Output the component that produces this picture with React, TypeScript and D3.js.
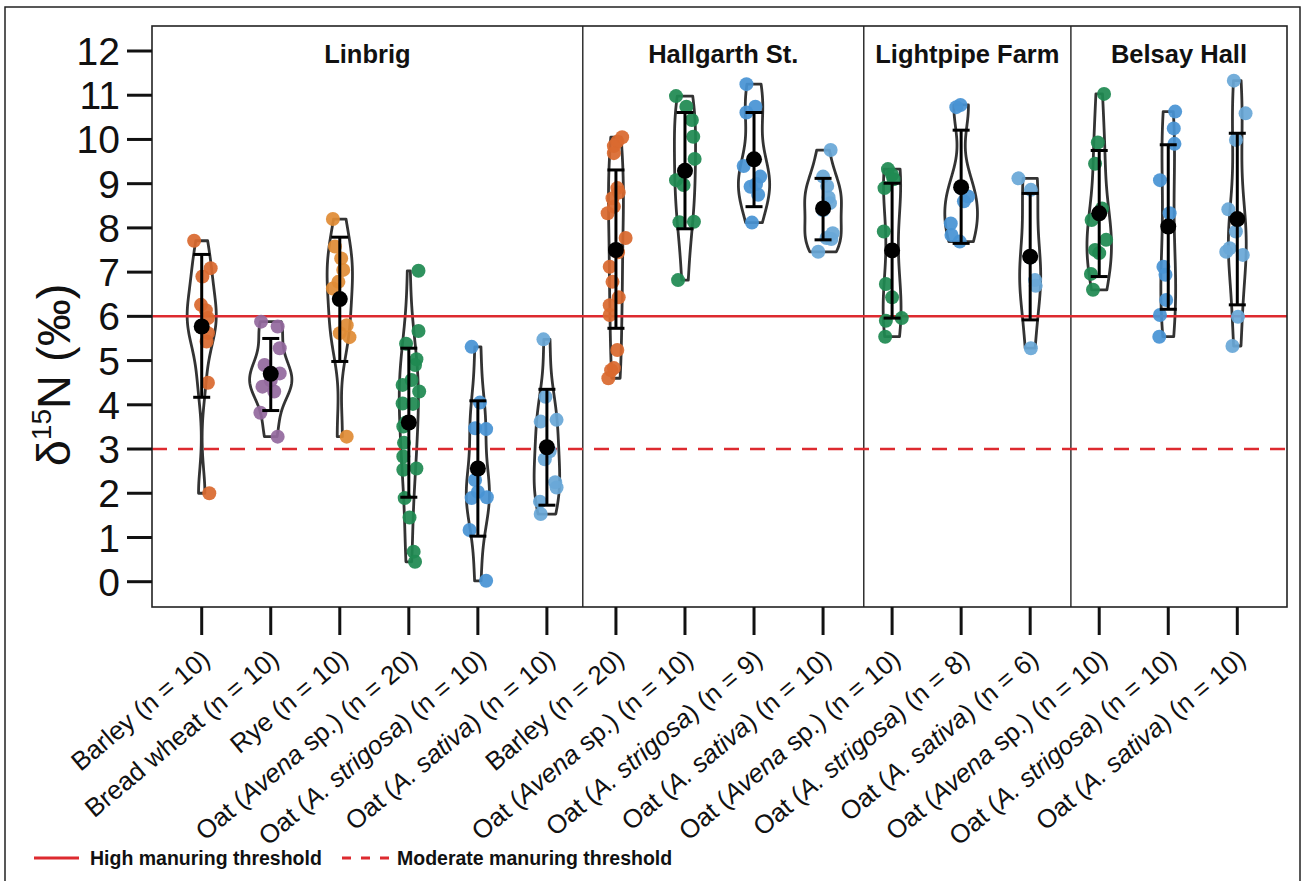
import React from "react";
import * as d3 from "d3";

// ---------------- data ----------------
const siteNames = ["Linbrig", "Hallgarth St.", "Lightpipe Farm", "Belsay Hall"];
const groupSite = [0, 0, 0, 0, 0, 0, 1, 1, 1, 1, 2, 2, 2, 3, 3, 3];
const groupCrop = [
  "barley", "wheat", "rye", "avena", "strigosa", "sativa",
  "barley", "avena", "strigosa", "sativa",
  "avena", "strigosa", "sativa",
  "avena", "strigosa", "sativa",
];
const groupN = [10, 10, 10, 20, 10, 10, 20, 10, 9, 10, 10, 8, 6, 10, 10, 10];
const groupMean = [5.77, 4.7, 6.39, 3.6, 2.56, 3.04, 7.5, 9.29, 9.55, 8.44, 7.49, 8.92, 7.35, 8.33, 8.03, 8.2];
const groupLow = [4.17, 3.87, 4.98, 1.91, 1.03, 1.73, 5.73, 7.98, 8.48, 7.73, 5.96, 7.65, 5.92, 6.9, 6.16, 6.26];
const groupHigh = [7.4, 5.5, 7.79, 5.28, 4.09, 4.35, 9.31, 10.61, 10.61, 9.12, 9.01, 10.21, 8.78, 9.75, 9.88, 10.14];

const groupValues: number[][] = [
  [7.71, 7.09, 6.9, 6.26, 6.14, 5.96, 5.62, 5.43, 4.5, 2.0],
  [5.88, 5.77, 5.28, 4.9, 4.71, 4.55, 4.41, 4.3, 3.82, 3.28],
  [8.2, 7.58, 7.31, 7.05, 6.78, 6.63, 5.8, 5.62, 5.53, 3.28],
  [7.03, 5.67, 5.38, 5.03, 4.9, 4.56, 4.45, 4.3, 4.03, 4.02, 3.6, 3.51, 3.14, 2.83, 2.53, 2.56, 1.89, 1.45, 0.68, 0.45],
  [5.31, 4.05, 3.47, 3.45, 2.3, 2.03, 1.89, 1.91, 1.17, 0.02],
  [5.48, 4.18, 3.66, 3.62, 2.95, 2.77, 2.25, 2.13, 1.81, 1.53],
  [10.05, 9.95, 9.85, 9.69, 8.9, 8.8, 8.67, 8.48, 8.33, 7.77, 7.45, 7.12, 6.78, 6.43, 6.25, 6.03, 5.24, 4.83, 4.78, 4.6],
  [10.98, 10.74, 10.44, 10.06, 9.56, 9.08, 8.97, 8.13, 8.14, 6.82],
  [11.25, 10.74, 10.61, 9.4, 9.16, 8.99, 8.93, 8.75, 8.12],
  [9.76, 9.16, 8.95, 8.69, 8.56, 8.4, 7.88, 7.77, 7.75, 7.46],
  [9.33, 9.2, 9.1, 8.9, 7.92, 6.73, 6.43, 5.96, 5.9, 5.54],
  [10.78, 10.73, 8.9, 8.71, 8.6, 8.1, 7.84, 7.69],
  [9.12, 8.86, 7.33, 6.82, 6.69, 5.28],
  [11.03, 9.93, 9.45, 8.44, 8.18, 7.73, 7.5, 7.43, 6.96, 6.6],
  [10.63, 10.25, 9.9, 9.08, 8.33, 7.12, 6.94, 6.37, 6.03, 5.54],
  [11.33, 10.59, 9.99, 8.42, 7.92, 7.54, 7.46, 7.39, 5.99, 5.33],
];

// horizontal jitter of each point, as a fraction of the category step
const groupJitter: number[][] = [
  [-0.11, 0.13, 0.01, -0.01, 0.06, 0.09, 0.09, 0.07, 0.09, 0.11],
  [-0.14, 0.1, 0.13, -0.09, 0.13, 0, -0.12, 0.05, -0.15, 0.1],
  [-0.1, -0.07, 0.02, 0.05, -0.02, -0.1, 0.1, 0, 0.14, 0.1],
  [0.14, 0.14, -0.04, 0.11, 0.09, 0.04, -0.09, 0.15, -0.09, 0.06, -0.04, -0.08, -0.07, -0.08, -0.08, 0.11, -0.06, 0.01, 0.07, 0.09],
  [-0.09, 0.03, -0.04, 0.12, -0.04, 0, -0.09, 0.13, -0.12, 0.12],
  [-0.05, -0.02, 0.14, -0.09, 0.04, -0.03, 0.12, 0.14, -0.1, -0.09],
  [0.09, 0.02, -0.03, -0.03, 0.02, 0.04, -0.05, -0.03, -0.12, 0.14, 0.03, -0.09, -0.05, 0.04, -0.09, -0.09, 0.02, -0.03, -0.07, -0.11],
  [-0.13, 0.02, 0.1, 0.12, 0.14, -0.13, -0.02, -0.08, 0.13, -0.1],
  [-0.11, 0.02, -0.11, -0.15, 0.09, 0.03, -0.05, 0.06, -0.03],
  [0.11, 0, 0.06, 0.08, 0.1, 0, 0.14, 0.05, 0.12, -0.07],
  [-0.06, 0, 0.02, -0.11, -0.12, -0.09, 0, 0.14, -0.09, -0.1],
  [-0.01, -0.07, 0, 0.1, 0.04, -0.15, -0.14, -0.02],
  [-0.17, 0.01, 0, 0.07, 0.08, 0.01],
  [0.07, -0.02, -0.06, 0.04, -0.11, 0.1, -0.06, 0, -0.12, -0.09],
  [0.1, 0.08, 0.09, -0.12, 0.02, -0.07, -0.04, -0.03, -0.12, -0.13],
  [-0.05, 0.12, -0.02, -0.13, -0.02, -0.11, -0.16, 0.08, 0.01, -0.07],
];

const yTicks = [0, 1, 2, 3, 4, 5, 6, 7, 8, 9, 10, 11, 12];
const highThreshold = 6;
const moderateThreshold = 3;
const legendLabels = ["High manuring threshold", "Moderate manuring threshold"];

const cropLabelParts: Record<string, [string, string, string]> = {
  barley: ["Barley", "", ""],
  wheat: ["Bread wheat", "", ""],
  rye: ["Rye", "", ""],
  avena: ["Oat (", "Avena", " sp.)"],
  strigosa: ["Oat (", "A. strigosa", ")"],
  sativa: ["Oat (", "A. sativa", ")"],
};

const cropColor: Record<string, string> = {
  barley: "#d9692f",
  wheat: "#93699e",
  rye: "#e08c36",
  avena: "#1f8a52",
  strigosa: "#4893d4",
  sativa: "#69a8d7",
};

// ---------------- helpers ----------------
function bwNrd0(vals: number[]): number {
  const s = vals.slice().sort((a, b) => a - b);
  const sd = d3.deviation(s) || 0;
  const iqr = (d3.quantileSorted(s, 0.75) || 0) - (d3.quantileSorted(s, 0.25) || 0);
  let lo = Math.min(sd, iqr / 1.34);
  if (!(lo > 0)) lo = sd || Math.abs(s[0]) || 1;
  return 0.9 * lo * Math.pow(s.length, -0.2);
}

function kde(vals: number[], steps = 200) {
  const h = bwNrd0(vals);
  const mn = d3.min(vals)!;
  const mx = d3.max(vals)!;
  const n = vals.length;
  const out: { v: number; d: number }[] = [];
  for (let i = 0; i <= steps; i++) {
    const v = mn + ((mx - mn) * i) / steps;
    let s = 0;
    for (const x of vals) {
      const u = (v - x) / h;
      s += Math.exp(-0.5 * u * u) / Math.sqrt(2 * Math.PI);
    }
    out.push({ v, d: s / (n * h) });
  }
  return out;
}

const FONT = "'Liberation Sans', Arial, Helvetica, sans-serif";

export default function App() {
  const W = 1307;
  const H = 881;
  const left = 152;
  const right = 1287;
  const top = 26;
  const bottom = 607;

  const ids = groupN.map((_, i) => String(i));
  const x = d3.scalePoint<string>().domain(ids).range([left, right]).padding(0.72);
  const step = x.step();
  const y = d3.scaleLinear().domain([0, 12]).range([581.7, 51]);

  const violinScale = 42.5; // px of half-width per unit density
  const dividerFrac = [0.52, 0.59, 0.59];

  const siteIdx = d3.range(siteNames.length);
  const dividers = siteIdx.slice(0, -1).map((s) => {
    const members = ids.filter((_, i) => groupSite[i] === s);
    return x(members[members.length - 1])! + step * dividerFrac[s];
  });
  const siteBounds = siteIdx.map((s) => ({
    l: s === 0 ? left : dividers[s - 1],
    r: s === siteNames.length - 1 ? right : dividers[s],
  }));

  const areaGen = d3
    .area<{ v: number; d: number; cx: number }>()
    .y((p) => y(p.v))
    .x0((p) => p.cx - p.d * violinScale)
    .x1((p) => p.cx + p.d * violinScale);

  const red = "#dd2a2f";

  return (
    <div style={{ position: "absolute", left: 0, top: 0 }}>
      <svg width={W} height={H} style={{ display: "block", fontFamily: FONT }}>
        <rect x={0} y={0} width={W} height={H} fill="#fff" />
        <rect x={5} y={7} width={1295} height={890} fill="none" stroke="#222" strokeWidth={1.5} />

        {/* panel dividers */}
        {dividers.map((d, i) => (
          <line key={"div" + i} x1={d} x2={d} y1={top} y2={bottom} stroke="#111" strokeWidth={1.3} />
        ))}

        {/* panel titles */}
        {siteNames.map((s, i) => (
          <text key={s} x={(siteBounds[i].l + siteBounds[i].r) / 2} y={63} textAnchor="middle" fontSize={25.5} fontWeight="bold" fill="#111">
            {s}
          </text>
        ))}

        {/* violins */}
        {groupValues.map((vals, i) => {
          const cx = x(ids[i])!;
          const pts = kde(vals).map((p) => ({ ...p, cx }));
          return (
            <path key={"v" + i} d={areaGen(pts) || ""} fill="none" stroke="#333" strokeWidth={2.8} strokeLinejoin="round" />
          );
        })}

        {/* thresholds */}
        <line x1={left} x2={right} y1={y(highThreshold)} y2={y(highThreshold)} stroke={red} strokeWidth={2.5} />
        <line x1={left} x2={right} y1={y(moderateThreshold)} y2={y(moderateThreshold)} stroke={red} strokeWidth={2.5} strokeDasharray="15,11" />

        {/* points */}
        {groupValues.map((vals, i) => {
          const cx = x(ids[i])!;
          return (
            <g key={"p" + i}>
              {vals.map((v, j) => (
                <circle key={j} cx={cx + groupJitter[i][j] * step} cy={y(v)} r={7} fill={cropColor[groupCrop[i]]} fillOpacity={0.93} />
              ))}
            </g>
          );
        })}

        {/* error bars and means */}
        {ids.map((id, i) => {
          const cx = x(id)!;
          return (
            <g key={"e" + i} stroke="#000" strokeWidth={3}>
              <line x1={cx} x2={cx} y1={y(groupLow[i])} y2={y(groupHigh[i])} />
              <line x1={cx - 8.5} x2={cx + 8.5} y1={y(groupLow[i])} y2={y(groupLow[i])} />
              <line x1={cx - 8.5} x2={cx + 8.5} y1={y(groupHigh[i])} y2={y(groupHigh[i])} />
              <circle cx={cx} cy={y(groupMean[i])} r={8} fill="#000" stroke="none" />
            </g>
          );
        })}

        {/* plot frame */}
        <rect x={left} y={top} width={right - left} height={bottom - top} fill="none" stroke="#222" strokeWidth={1.6} />

        {/* y axis */}
        {yTicks.map((t) => (
          <g key={"yt" + t}>
            <line x1={left - 25} x2={left} y1={y(t)} y2={y(t)} stroke="#111" strokeWidth={3} />
            <text x={120} y={y(t)} dy="0.36em" textAnchor="end" fontSize={39} fill="#111">
              {t}
            </text>
          </g>
        ))}
        <text transform={`translate(70,375) rotate(-90)`} textAnchor="middle" fontSize={47} fill="#111">
          δ<tspan fontSize={28} dy={-19}>15</tspan>
          <tspan dy={19}>N (‰)</tspan>
        </text>

        {/* x axis */}
        {ids.map((id, i) => {
          const cx = x(id)!;
          const parts = cropLabelParts[groupCrop[i]];
          return (
            <g key={"xt" + i}>
              <line x1={cx} x2={cx} y1={bottom} y2={bottom + 28} stroke="#111" strokeWidth={3} />
              <text transform={`translate(${cx + 10},662) rotate(-40)`} textAnchor="end" fontSize={26} fill="#111">
                {parts[0]}
                {parts[1] ? <tspan fontStyle="italic">{parts[1]}</tspan> : null}
                {parts[2]}
                {` (n = ${groupN[i]})`}
              </text>
            </g>
          );
        })}

        {/* legend */}
        <line x1={34} x2={79} y1={858} y2={858} stroke={red} strokeWidth={3} />
        <text x={90} y={865} fontSize={19.5} fontWeight="bold" fill="#111">
          {legendLabels[0]}
        </text>
        <line x1={342} x2={390} y1={858} y2={858} stroke={red} strokeWidth={3} strokeDasharray="9,10" />
        <text x={397} y={865} fontSize={19.5} fontWeight="bold" fill="#111">
          {legendLabels[1]}
        </text>
      </svg>
    </div>
  );
}
